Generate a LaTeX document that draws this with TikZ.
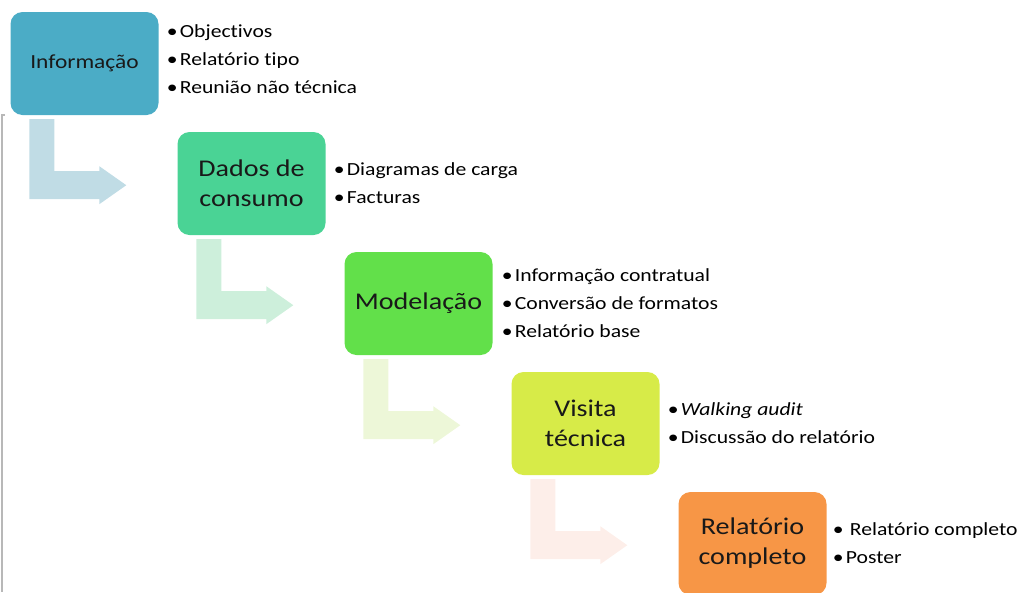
\documentclass[tikz,border=0pt]{standalone}
\usepackage{fontspec}
\setmainfont{Carlito}[FakeStretch=1.17, Ligatures={NoCommon,NoRare}]
\usetikzlibrary{positioning,calc}

\definecolor{infoblue}{HTML}{4BACC6}
\definecolor{dadosgreen}{HTML}{4AD395}
\definecolor{modelgreen}{HTML}{62E04A}
\definecolor{visitayellow}{HTML}{D7EB48}
\definecolor{relatorange}{HTML}{F79646}
\definecolor{arrowone}{HTML}{C0DCE5}
\definecolor{arrowtwo}{HTML}{CDEFDB}
\definecolor{arrowthree}{HTML}{EDF7D8}
\definecolor{arrowfour}{HTML}{FDEEE9}

\newcommand{\itm}[1]{\makebox[13pt][l]{\textbullet}#1}
\newcommand{\bentarrow}[2]{%
  \fill[#2] ($(#1.south west)+(19,4)$) -- ++(25,0) -- ++(0,52) -- ++(45,0)
    -- ++(0,-5) -- ++(27,19) -- ++(-27,19) -- ++(0,-5) -- ++(-70,0) -- cycle;}

\begin{document}
\begin{tikzpicture}[x=1pt,y=-1pt,
    node distance =120pt and 167pt, on grid,
    stepbox/.style ={rectangle, rounded corners=12pt, minimum width=148pt,
    minimum height=103pt, text=black!90, align=center,
    font=\fontsize{24}{30}\selectfont},
    list/.style={inner sep=0pt, align=left, anchor=west,
    font=\fontsize{18.5}{28}\selectfont}
    ]
\useasboundingbox (0,0) rectangle (1019,592);

\node (info) [stepbox, fill=infoblue, font=\fontsize{20}{24}\selectfont] at (84.5,63.5) {Informação};
\node (dados) [stepbox, fill=dadosgreen, below right=of info] {Dados de\\consumo};
\node (model) [stepbox, fill=modelgreen, below right=of dados] {Modelação};
\node (visita) [stepbox, fill=visitayellow, below right=of model] {Visita\\técnica};
\node (relat) [stepbox, fill=relatorange, below right=of visita] {Relatório\\completo};

\node (info-list) [list] at ([xshift=8pt,yshift=4pt]info.east)
  {\itm{Objectivos}\\ \itm{Relatório tipo}\\ \itm{Reunião não técnica}};
\node (dados-list) [list] at ([xshift=8pt]dados.east)
  {\itm{Diagramas de carga}\\ \itm{Facturas}};
\node (model-list) [list] at ([xshift=9pt]model.east)
  {\itm{Informação contratual}\\ \itm{Conversão de formatos}\\ \itm{Relatório base}};
\node (visita-list) [list] at ([xshift=8pt]visita.east)
  {\itm{\textit{Walking audit}}\\ \itm{Discussão do relatório}};
\node (relat-list) [list] at ([xshift=6pt]relat.east)
  {\itm{\hspace{4pt}Relatório completo}\\ \itm{Poster}};

\bentarrow{info}{arrowone}
\bentarrow{dados}{arrowtwo}
\bentarrow{model}{arrowthree}
\bentarrow{visita}{arrowfour}

\draw[black!28, line width=1.5pt] (5,115) -- (2,115) -- (2,592);
\end{tikzpicture}
\end{document}
